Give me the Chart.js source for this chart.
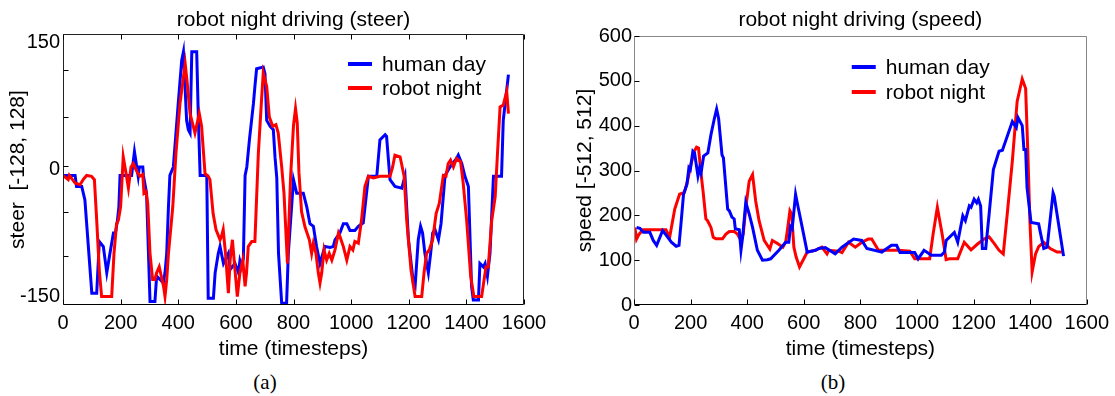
<!DOCTYPE html>
<html>
<head>
<meta charset="utf-8">
<script src="https://cdn.jsdelivr.net/npm/chart.js@4.4.1/dist/chart.umd.min.js"></script>
<style>
  html, body { margin: 0; padding: 0; background: #fff; }
  body { width: 1115px; height: 396px; position: relative; overflow: hidden; }
  canvas { position: absolute; top: 0; }
  #steer { left: 0; }
  #speed { left: 560px; }
  .cap { position: absolute; top: 370px; width: 60px; text-align: center; line-height: 24px;
         font: 21px "Liberation Serif", "Times New Roman", serif; color: #000; }
</style>
</head>
<body>
<canvas id="steer" width="560" height="364"></canvas>
<canvas id="speed" width="555" height="364"></canvas>
<div class="cap" style="left:235px">(a)</div>
<div class="cap" style="left:803px">(b)</div>
<script>
const timeTicks = [0, 200, 400, 600, 800, 1000, 1200, 1400, 1600]
const steerTickLabels = [-150, 0, 150]
const steerTickMarks = [-102, -50, 4, 62, 117]
const speedTicks = [0, 100, 200, 300, 400, 500, 600]
const seriesNames = ['human day', 'robot night']

const humanSteerT = [0,42,47,65,76,100,117,126,140,152,163,175,182,189,194,198,238,248,256,261,265,277,279,290,302,319,325,337,348,354,360,366,371,383,400,412,418,429,435,441,447,464,470,476,499,504,522,528,539,545,557,574,580,597,609,614,620,626,632,638,647,661,666,672,695,701,707,719,730,736,742,748,759,776,782,800,811,834,846,857,869,880,892,909,927,938,944,961,973,985,996,1013,1025,1042,1060,1089,1100,1118,1123,1135,1152,1176,1187,1199,1216,1222,1233,1241,1248,1256,1268,1276,1283,1291,1303,1312,1326,1343,1366,1372,1384,1395,1407,1418,1424,1442,1447,1459,1465,1473,1482,1494,1522,1528,1546]
const humanSteerV = [-7,-7,-20,-20,-36,-146,-146,-85,-91,-122,-99,-75,-75,-60,-44,-7,-7,21,3,-8,3,3,-7,-28,-156,-156,-126,-130,-134,-122,-99,-44,-7,3,78,129,139,58,47,43,139,139,58,-7,-7,-152,-152,-122,-99,-91,-111,-99,-118,-111,-122,-108,-115,-105,-7,3,35,78,98,119,121,113,58,51,47,14,-10,-99,-158,-158,-99,-12,-28,-28,-44,-64,-67,-91,-111,-91,-92,-91,-83,-75,-64,-64,-72,-72,-67,-63,-8,-8,35,41,39,-12,-20,-22,-8,-83,-134,-138,-83,-67,-75,-99,-122,-99,-75,-71,-83,-64,-7,3,13,17,7,-8,-20,-138,-154,-154,-111,-115,-111,-126,-99,-8,-8,58,112]

const robotSteerT = [0,18,22,42,59,70,82,99,109,117,126,134,169,177,186,192,200,209,219,227,236,244,256,267,277,281,288,294,302,311,319,325,334,340,349,354,360,366,381,392,406,424,430,441,458,473,481,493,504,510,521,531,545,550,556,564,574,580,588,594,605,614,624,632,637,643,655,666,678,689,695,707,716,728,739,747,759,767,779,790,800,807,813,819,828,840,855,863,869,878,886,892,898,906,915,924,933,944,956,961,973,985,996,1006,1013,1025,1036,1048,1060,1077,1100,1135,1144,1152,1170,1184,1193,1208,1222,1245,1253,1262,1271,1283,1295,1306,1320,1329,1337,1345,1355,1366,1380,1389,1401,1415,1426,1453,1468,1476,1488,1500,1508,1517,1528,1540,1546]
const robotSteerV = [-7,-12,-7,-16,-18,-12,-7,-8,-12,-60,-119,-150,-150,-99,-64,-60,-44,15,-5,-22,3,7,-2,-8,-6,-28,-26,-40,-99,-130,-130,-122,-115,-124,-138,-150,-130,-99,-44,19,78,125,106,66,43,66,51,-5,-8,-12,-52,-71,-83,-79,-71,-99,-146,-107,-83,-107,-150,-122,-107,-138,-122,-91,-85,-85,19,82,114,98,62,51,53,43,3,-28,-111,-8,52,72,55,-4,-50,-68,-83,-99,-87,-99,-122,-134,-122,-95,-107,-99,-107,-95,-75,-79,-91,-107,-91,-95,-85,-87,-60,-20,-8,-10,-8,-8,3,17,15,-8,-60,-119,-150,-150,-122,-99,-95,-83,-52,-40,-7,-8,7,11,3,13,9,-16,-60,-126,-150,-150,-115,-115,-60,-32,19,74,76,92,66]

const humanSpeedT = [9,21,33,56,68,80,101,115,132,149,159,167,175,187,194,199,208,214,226,232,237,246,261,272,284,292,299,311,316,331,337,346,354,358,372,378,384,395,407,419,436,454,471,483,512,536,547,553,559,571,580,592,612,641,653,676,711,735,776,805,823,876,910,928,940,992,1004,1025,1051,1086,1097,1103,1132,1144,1162,1171,1185,1191,1202,1211,1217,1225,1231,1243,1255,1270,1290,1302,1337,1351,1357,1372,1378,1384,1389,1403,1430,1436,1448,1460,1481,1485,1518]
const humanSpeedV = [173,171,162,162,144,133,166,155,140,131,133,188,247,269,306,302,343,339,288,306,295,332,339,380,416,437,416,335,328,214,210,196,192,170,168,122,152,229,203,173,122,100,101,103,122,140,140,175,170,247,218,181,118,122,126,128,114,129,147,144,126,118,133,133,117,117,103,122,111,111,118,144,162,140,199,188,221,218,236,228,236,221,126,126,203,302,343,345,409,396,418,400,347,347,262,184,181,162,126,129,250,243,109]

const robotSpeedT = [3,9,18,32,113,126,144,161,178,189,201,213,221,228,236,244,254,260,272,280,289,313,325,337,354,366,378,386,395,407,419,430,442,460,480,489,507,526,536,542,551,557,565,573,585,600,612,641,664,682,688,723,735,758,782,805,828,840,864,934,975,992,1045,1057,1072,1089,1103,1115,1144,1167,1191,1214,1237,1255,1272,1290,1305,1319,1337,1354,1372,1384,1392,1399,1407,1419,1430,1448,1471,1495,1512]
const robotSpeedV = [173,147,158,168,168,151,214,247,251,276,313,343,352,350,298,254,192,188,173,151,148,148,158,164,164,158,144,158,217,276,291,232,188,144,125,144,137,129,140,166,210,203,129,107,85,103,118,122,129,114,122,120,117,140,129,140,147,147,122,122,120,103,103,158,218,158,101,103,103,140,123,136,147,152,138,122,114,203,321,454,504,483,336,188,74,114,130,140,126,118,118]

const FONT = '"Liberation Sans", Arial, Helvetica, sans-serif'
Chart.defaults.font.family = FONT
Chart.defaults.color = '#000'
Chart.defaults.animation = false

function toPoints(ts, vs) {
  return ts.map((t, i) => ({ x: t, y: vs[i] }))
}

// box + inward tick marks, matlab style
const framePlugin = {
  id: 'frame',
  afterDatasetsDraw(chart, args, o) {
    const { ctx, chartArea: a, scales: { x, y } } = chart
    const L = Math.round(a.left) + 0.5, R = Math.round(a.right) - 0.5
    const T = Math.round(a.top) + 0.5, B = Math.round(a.bottom) - 0.5
    ctx.save()
    ctx.lineWidth = 1
    ctx.strokeStyle = o.sideColor
    ctx.beginPath()
    ctx.moveTo(L, B); ctx.lineTo(L, T); ctx.lineTo(R, T); ctx.lineTo(R, B)
    ctx.stroke()
    ctx.strokeStyle = o.axisColor
    ctx.beginPath()
    ctx.moveTo(L, B); ctx.lineTo(R, B)
    x.ticks.forEach(t => {
      const px = Math.round(x.getPixelForValue(t.value)) + 0.5
      ctx.moveTo(px, B); ctx.lineTo(px, B - o.len)
      if (o.topTicks) { ctx.moveTo(px, T); ctx.lineTo(px, T + o.len) }
    })
    const marks = o.yMarks || y.ticks.map(t => t.value)
    marks.forEach(v => {
      const py = Math.round(y.getPixelForValue(v)) + 0.5
      ctx.moveTo(L, py); ctx.lineTo(L + o.len, py)
    })
    ctx.stroke()
    ctx.restore()
  }
}

// legend drawn inside the plot box
const insideLegend = {
  id: 'insideLegend',
  afterDraw(chart, args, o) {
    const { ctx, chartArea: a } = chart
    ctx.save()
    ctx.font = '21px ' + FONT
    ctx.textBaseline = 'middle'
    chart.data.datasets.forEach((ds, i) => {
      const lx = a.right - o.right, ly = a.top + o.top + i * o.gap
      ctx.strokeStyle = ds.borderColor
      ctx.lineWidth = 4
      ctx.beginPath(); ctx.moveTo(lx, ly); ctx.lineTo(lx + 24, ly); ctx.stroke()
      ctx.fillStyle = '#000'
      ctx.fillText(ds.label, lx + 34, ly + 1)
    })
    ctx.restore()
  }
}

const plainTick = v => String(v)

function timeAxis() {
  return {
    type: 'linear', min: 0, max: 1600,
    afterBuildTicks: s => { s.ticks = timeTicks.map(v => ({ value: v })) },
    grid: { display: false, drawTicks: false },
    border: { display: false },
    ticks: { font: { size: 20 }, padding: 6, maxRotation: 0, autoSkip: false, callback: plainTick },
    title: { display: true, text: 'time (timesteps)', font: { size: 21 }, padding: { top: 0, bottom: 2.4 } },
    afterFit: s => { s.height = 59 }
  }
}

function line(label, color, ts, vs, order) {
  return {
    label, data: toPoints(ts, vs), borderColor: color, backgroundColor: color,
    borderWidth: 3, pointRadius: 0, tension: 0, order
  }
}

new Chart(document.getElementById('steer'), {
  type: 'line',
  data: {
    datasets: [
      line(seriesNames[0], '#0000ff', humanSteerT, humanSteerV, 1),
      line(seriesNames[1], '#ff0000', robotSteerT, robotSteerV, 0)
    ]
  },
  options: {
    responsive: false,
    devicePixelRatio: 1,
    layout: { padding: { left: 0, right: 36, top: 0, bottom: 0 } },
    scales: {
      x: timeAxis(),
      y: {
        type: 'linear', min: -160, max: 160,
        afterBuildTicks: s => { s.ticks = steerTickLabels.map(v => ({ value: v })) },
        grid: { display: false, drawTicks: false },
        border: { display: false },
        ticks: { font: { size: 20 }, padding: 3, callback: plainTick },
        title: { display: true, text: 'steer  [-128, 128]', font: { size: 21 }, padding: { top: 5.4, bottom: 0 } },
        afterFit: s => { s.width = 63 }
      }
    },
    plugins: {
      legend: { display: false },
      tooltip: { enabled: false },
      title: {
        display: true, text: 'robot night driving (steer)', fullSize: false,
        font: { size: 21, weight: 'normal' }, color: '#000', padding: { top: 7.4, bottom: 1.4 }
      },
      frame: { sideColor: '#222', axisColor: '#000', len: 5, topTicks: true, yMarks: steerTickMarks },
      insideLegend: { right: 176, top: 30, gap: 24 }
    }
  },
  plugins: [framePlugin, insideLegend]
})

new Chart(document.getElementById('speed'), {
  type: 'line',
  data: {
    datasets: [
      line(seriesNames[0], '#0000ff', humanSpeedT, humanSpeedV, 0),
      line(seriesNames[1], '#ff0000', robotSpeedT, robotSpeedV, 1)
    ]
  },
  options: {
    responsive: false,
    devicePixelRatio: 1,
    layout: { padding: { left: 0, right: 25, top: 0, bottom: 0 } },
    scales: {
      x: timeAxis(),
      y: {
        type: 'linear', min: 0, max: 600,
        afterBuildTicks: s => { s.ticks = speedTicks.map(v => ({ value: v })) },
        grid: { display: false, drawTicks: false },
        border: { display: false },
        ticks: { font: { size: 20 }, padding: 2, callback: plainTick },
        title: { display: true, text: 'speed [-512, 512]', font: { size: 21 }, padding: { top: 12.4, bottom: 0 } },
        afterFit: s => { s.width = 74 }
      }
    },
    plugins: {
      legend: { display: false },
      tooltip: { enabled: false },
      title: {
        display: true, text: 'robot night driving (speed)', fullSize: false,
        font: { size: 21, weight: 'normal' }, color: '#000', padding: { top: 7.4, bottom: 3.4 }
      },
      frame: { sideColor: '#888', axisColor: '#000', len: 5, topTicks: false, yMarks: null },
      insideLegend: { right: 235, top: 31, gap: 25 }
    }
  },
  plugins: [framePlugin, insideLegend]
})
</script>
</body>
</html>
